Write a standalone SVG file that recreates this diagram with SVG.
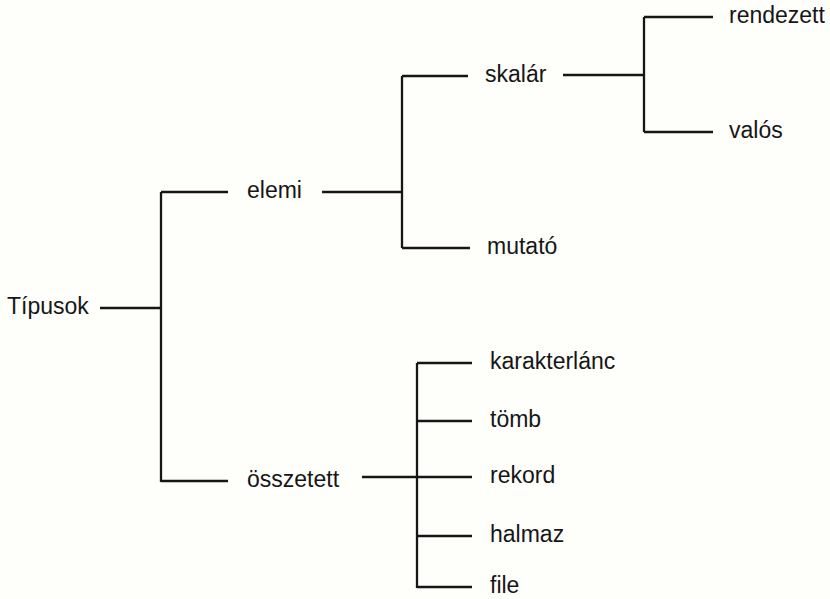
<svg xmlns="http://www.w3.org/2000/svg" width="830" height="599" viewBox="0 0 830 599">
<style>
  .bg { fill: #fefefb; }
  text { font-family: "Liberation Sans", Arial, sans-serif; font-size: 23px; fill: #161616; }
  .ln { stroke: #161616; stroke-width: 2.3; fill: none; stroke-linecap: butt; }
</style>
<rect class="bg" x="0" y="0" width="830" height="599"/>
<g id="connectors">
  <path class="ln" d="M100 308 H161"/>
  <path class="ln" d="M161 192 V482"/>
  <path class="ln" d="M161 192 H228"/>
  <path class="ln" d="M161 481 H228"/>
  <path class="ln" d="M322 192 H402"/>
  <path class="ln" d="M402 76 V248"/>
  <path class="ln" d="M402 76 H468"/>
  <path class="ln" d="M402 248 H470"/>
  <path class="ln" d="M563 75 H644"/>
  <path class="ln" d="M644 17 V132"/>
  <path class="ln" d="M644 17 H713"/>
  <path class="ln" d="M644 132 H713"/>
  <path class="ln" d="M362 477 H417"/>
  <path class="ln" d="M417 363 V588"/>
  <path class="ln" d="M417 363 H472"/>
  <path class="ln" d="M417 421 H472"/>
  <path class="ln" d="M417 477 H472"/>
  <path class="ln" d="M417 536 H472"/>
  <path class="ln" d="M417 587 H472"/>
</g>
<g id="n-tipusok"><text x="7" y="314">Típusok</text></g>
<g id="n-elemi"><text x="247" y="198">elemi</text></g>
<g id="n-osszetett"><text x="247" y="487">összetett</text></g>
<g id="n-skalar"><text x="485" y="82">skalár</text></g>
<g id="n-mutato"><text x="487" y="254">mutató</text></g>
<g id="n-rendezett"><text x="729" y="23">rendezett</text></g>
<g id="n-valos"><text x="729" y="138">valós</text></g>
<g id="n-karakterlanc"><text x="490" y="369">karakterlánc</text></g>
<g id="n-tomb"><text x="490" y="427">tömb</text></g>
<g id="n-rekord"><text x="490" y="483">rekord</text></g>
<g id="n-halmaz"><text x="490" y="542">halmaz</text></g>
<g id="n-file"><text x="490" y="593">file</text></g>
</svg>
